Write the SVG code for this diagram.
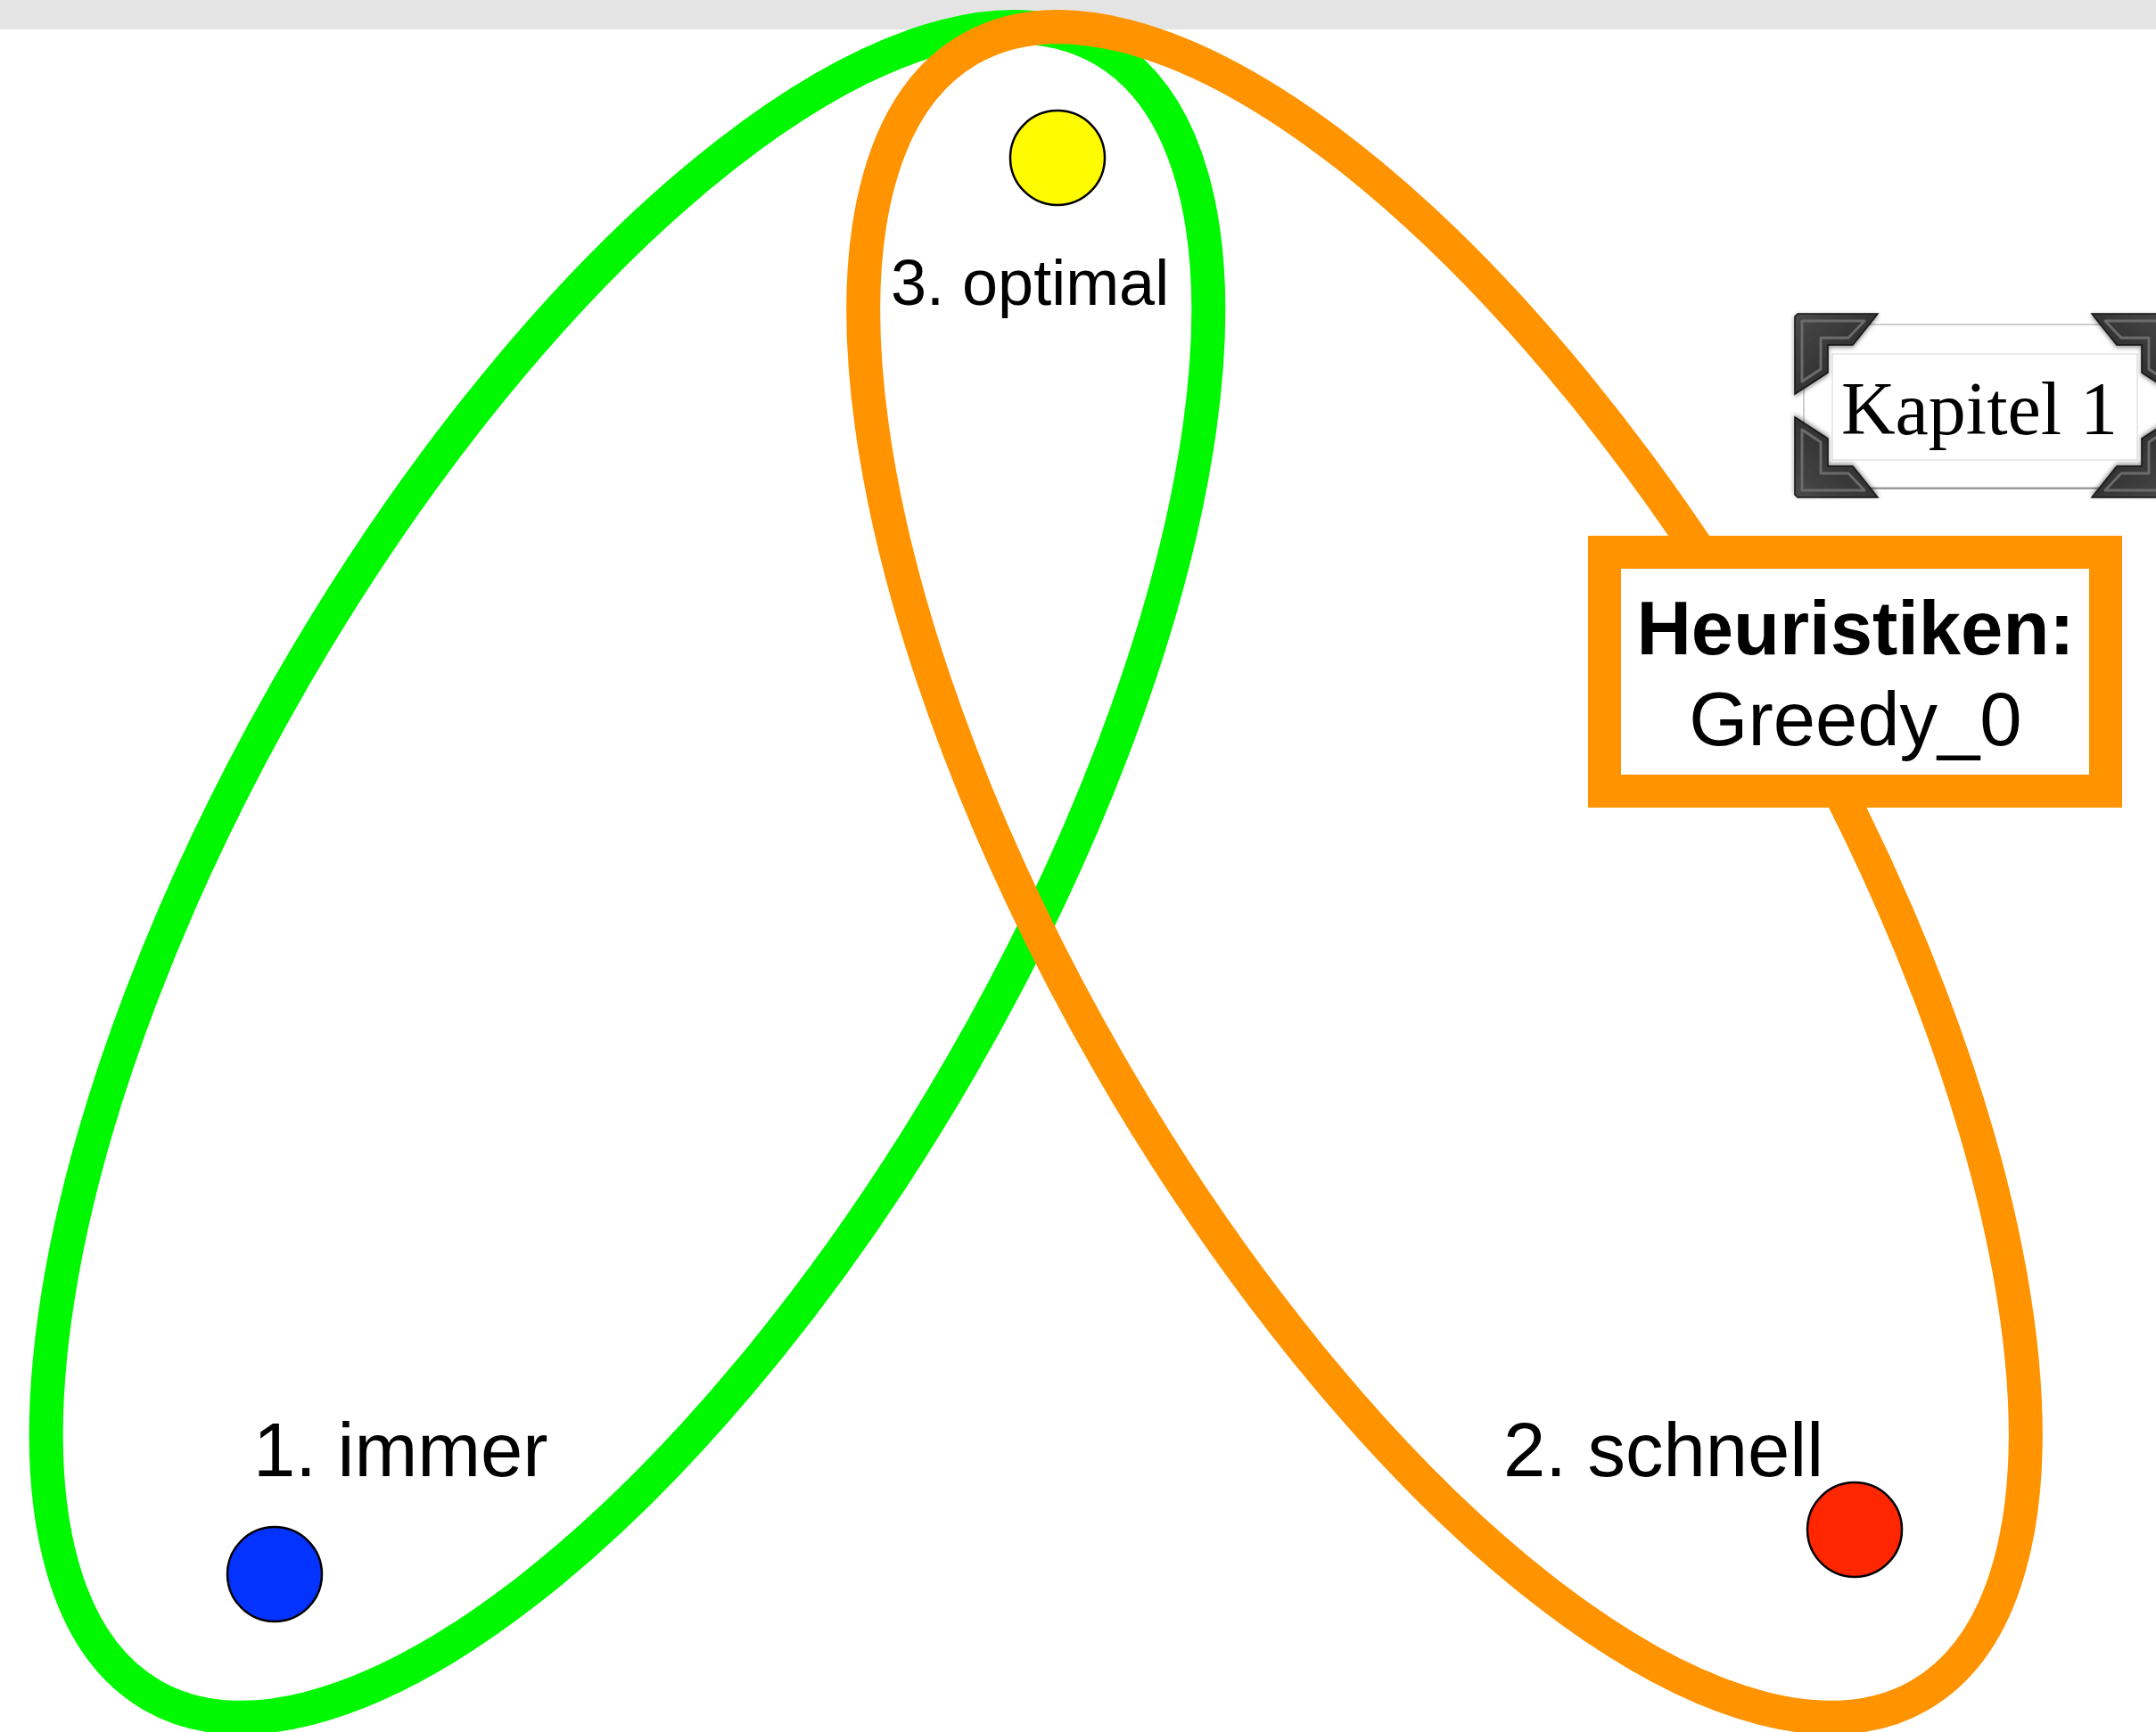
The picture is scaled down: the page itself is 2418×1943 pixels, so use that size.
<svg xmlns="http://www.w3.org/2000/svg" width="2418" height="1943" viewBox="0 0 2418 1943">
  <style>
    .set { fill: none; stroke-width: 38; }
    .green { stroke: #00f900; }
    .orange { stroke: #ff9300; }
    .dot { stroke: #000; stroke-width: 2.5; }
    .lbl { font-family: "Liberation Sans", Arial, Helvetica, sans-serif; fill: #000; }
    .serif { font-family: "Liberation Serif", "Times New Roman", serif; fill: #000; }
    .corner { fill: url(#cornerGrad); stroke: #151515; stroke-width: 1.5; filter: url(#shadow); }
    .bevel { fill: none; stroke: #6b6b6b; stroke-width: 3; stroke-linejoin: round; }
  </style>
  <defs>
    <linearGradient id="cornerGrad" x1="0" y1="0" x2="1" y2="1">
      <stop offset="0" stop-color="#4a4a4a"/>
      <stop offset="1" stop-color="#1f1f1f"/>
    </linearGradient>
    <filter id="shadow" x="-20%" y="-20%" width="140%" height="140%">
      <feDropShadow dx="0" dy="2" stdDeviation="2.5" flood-color="#000" flood-opacity="0.45"/>
    </filter>
    <g id="cornerPiece">
      <polygon class="corner" points="0,3 3,0 93,0 65,35 37,35 37,66 0,90"/>
      <polygon class="bevel" points="8,8 78,8 60,27 29,27 29,62 8,76"/>
    </g>
  </defs>

  <rect id="topbar" x="0" y="0" width="2418" height="33" fill="#e4e4e4"/>

  <g id="sets">
    <ellipse id="set-green" class="set green" cx="703.5" cy="978.5" rx="1066" ry="433" transform="rotate(-60 703.5 978.5)"/>
    <ellipse id="set-orange" class="set orange" cx="1620" cy="978.5" rx="1066" ry="433" transform="rotate(60 1620 978.5)"/>
  </g>

  <g id="node-optimal">
    <circle class="dot" cx="1186" cy="177" r="53" fill="#fffb00"/>
    <text class="lbl" x="999" y="342" font-size="72">3. optimal</text>
  </g>

  <g id="node-immer">
    <circle class="dot" cx="308" cy="1766" r="53" fill="#0433ff"/>
    <text class="lbl" x="284" y="1656" font-size="85">1. immer</text>
  </g>

  <g id="node-schnell">
    <circle class="dot" cx="2080" cy="1716" r="53" fill="#ff2600"/>
    <text class="lbl" x="1686" y="1656" font-size="85">2. schnell</text>
  </g>

  <g id="node-heuristiken">
    <rect x="1799.5" y="619.5" width="562" height="268" fill="#fff" stroke="#ff9300" stroke-width="37"/>
    <text class="lbl" x="2081" y="734" font-size="85" font-weight="bold" text-anchor="middle">Heuristiken:</text>
    <text class="lbl" x="2081" y="836" font-size="85" text-anchor="middle">Greedy_0</text>
  </g>

  <g id="node-kapitel">
    <rect x="2023" y="364" width="406" height="183" fill="#fff" stroke="#cfcfcf" stroke-width="2"/>
    <line x1="2023" y1="548" x2="2429" y2="548" stroke="#9a9a9a" stroke-width="2"/>
    <rect x="2055" y="397" width="342" height="119" fill="none" stroke="#e4e4e4" stroke-width="1.5"/>
    <use href="#cornerPiece" transform="translate(2013 352)"/>
    <use href="#cornerPiece" transform="translate(2013 558) scale(1 -1)"/>
    <use href="#cornerPiece" transform="translate(2439 352) scale(-1 1)"/>
    <use href="#cornerPiece" transform="translate(2439 558) scale(-1 -1)"/>
    <text class="serif" x="2220" y="487" font-size="84" text-anchor="middle">Kapitel 1</text>
  </g>
</svg>
